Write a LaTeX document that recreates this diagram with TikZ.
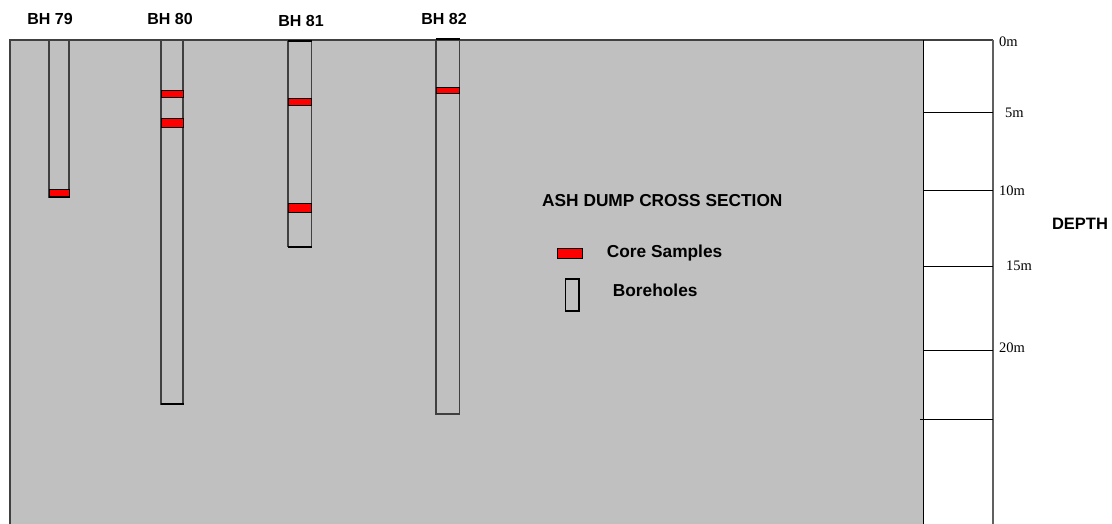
\documentclass[tikz,border=0pt]{standalone}
\usepackage{fontspec}
\setmainfont{Liberation Serif}
\newfontfamily\lblfont{Liberation Sans}
\definecolor{bggray}{HTML}{C0C0C0}
\definecolor{edge}{HTML}{404040}
\definecolor{scaleline}{HTML}{606060}
\tikzset{
  bore/.style={draw=edge, line width=1.5pt},
  sample/.style={draw=black, fill=red, line width=1pt},
  endcap/.style={draw=black, line width=2pt},
  bhlabel/.style={font=\lblfont\bfseries\fontsize{16}{18}\selectfont, inner sep=0pt},
  leglabel/.style={font=\lblfont\bfseries\fontsize{17.3}{19}\selectfont, inner sep=0pt, anchor=west},
  depthlabel/.style={font=\fontsize{14.5}{16}\selectfont, inner sep=0pt, anchor=west},
  tick/.style={draw=black, line width=1pt}
}
\begin{document}
\begin{tikzpicture}[x=1pt,y=-1pt]
\useasboundingbox (0,0) rectangle (1112,524);
\fill[white] (0,0) rectangle (1112,524);
% ground section
\fill[bggray] (10,40) rectangle (923,524);
\draw[edge, line width=1.3pt] (10,524) -- (10,40) -- (993,40);
\draw[black, line width=1pt] (923,40) -- (923,524);
\draw[scaleline, line width=1.6pt] (993,40) -- (993,524);
% depth ticks
\draw[tick] (923,112.7) -- (993,112.7);
\draw[tick] (923,191) -- (993,191);
\draw[tick] (923,266) -- (993,266);
\draw[tick] (923,350) -- (993,350);
\draw[tick] (920,419.3) -- (993,419.3);
\node[depthlabel] (d0) at (999,42) {0m};
\node[depthlabel] (d5) at (1005,112.7) {5m};
\node[depthlabel] (d10) at (999,191) {10m};
\node[depthlabel] (d15) at (1006,266) {15m};
\node[depthlabel] (d20) at (999,348) {20m};
\node[bhlabel, font=\lblfont\bfseries\fontsize{16.5}{18}\selectfont] (depth) at (1080,224) {DEPTH};
% borehole labels
\node[bhlabel] (l79) at (50,19) {BH 79};
\node[bhlabel] (l80) at (170,19) {BH 80};
\node[bhlabel] (l81) at (301,21) {BH 81};
\node[bhlabel] (l82) at (444,19) {BH 82};
% BH 79
\draw[bore] (49,40) rectangle (69,197.5);
\draw[sample] (49,190) rectangle (69,196.5);
\draw[endcap] (48.5,197.5) -- (69.5,197.5);
% BH 80
\draw[bore] (161,40) rectangle (183,404);
\draw[sample] (161,90.7) rectangle (183,97.7);
\draw[sample] (161,119) rectangle (183,128);
\draw[endcap] (160.5,404) -- (183.5,404);
% BH 81
\draw[bore] (288,41.3) rectangle (311.5,246.7);
\draw[sample] (288,99) rectangle (311.5,105.7);
\draw[sample] (288,204) rectangle (311.5,212.7);
\draw[endcap] (287.5,41.3) -- (312,41.3);
\draw[endcap] (287.5,246.7) -- (312,246.7);
% BH 82
\draw[bore] (436,39.3) rectangle (459.5,414);
\draw[sample] (436,87.3) rectangle (459.5,94);
\draw[endcap] (435.5,39.3) -- (460,39.3);
% legend
\node[leglabel] (title) at (542,201) {ASH DUMP CROSS SECTION};
\draw[sample] (557.7,248.3) rectangle (582.3,258.3);
\node[leglabel] (core) at (606.7,252.7) {Core Samples};
\draw[draw=black, line width=1.2pt] (565.7,279) rectangle (579,311);
\node[leglabel] (bh) at (612.7,290) {Boreholes};
\end{tikzpicture}
\end{document}
